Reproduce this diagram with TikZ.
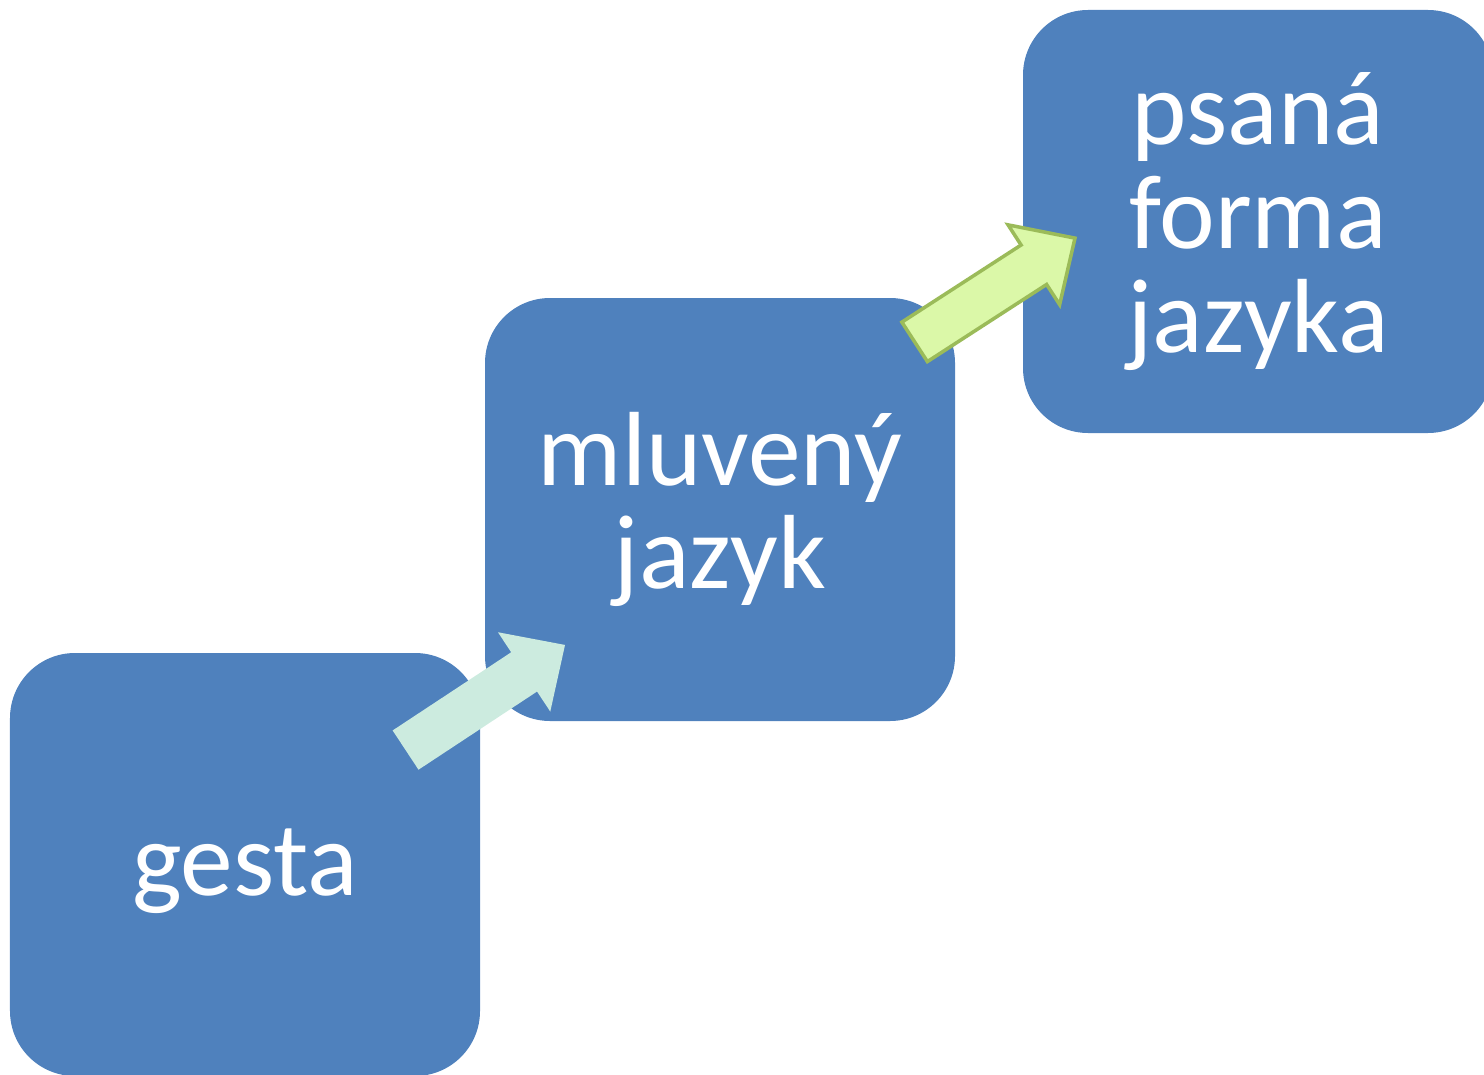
\documentclass[tikz,border=0pt]{standalone}
\usepackage{fontspec}
\setmainfont{Carlito}
\definecolor{boxblue}{HTML}{4F81BD}
\definecolor{mint}{HTML}{CCEBDF}
\definecolor{lightgreen}{HTML}{DBF8A8}
\definecolor{greenline}{HTML}{9BBB59}
\tikzset{pics/blockarrow/.style={code={
	\path[pic actions] (-0.955,-0.235) -- (0.465,-0.235) -- (0.465,-0.475) -- (0.955,0)
		-- (0.465,0.475) -- (0.465,0.235) -- (-0.955,0.235) -- cycle;}}}
\begin{document}
\begin{tikzpicture}

	% Styles
	\tikzstyle{stage} = [draw=none,fill=boxblue,rounded corners=0.65cm,minimum width=4.7cm,minimum height=4.23cm,inner sep=0pt,align=center,text=white,font=\fontsize{30}{29.5}\selectfont]

	\useasboundingbox (0,0) rectangle (14.84,-10.74);

	% Kroky
	\node at (2.45,-8.645) [stage,text height=0.8cm] (gesta) {gesta};
	\node at (7.2,-5.095) [stage] (mluveny) {mluvený\\jazyk};
	\node at (12.58,-2.215) [stage] (psana) {psaná\\forma\\jazyka};

	% Sipky
	\pic (a1) at (4.853,-6.975) [fill=mint,rotate=33.4] {blockarrow};
	\pic (a2) at (9.948,-2.90) [fill=lightgreen,draw=greenline,line width=1pt,rotate=32.9] {blockarrow};

\end{tikzpicture}
\end{document}
